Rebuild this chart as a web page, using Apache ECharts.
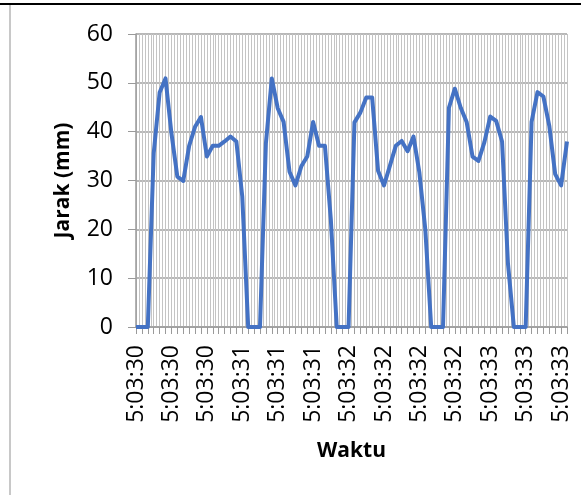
<!DOCTYPE html>
<html>
<head>
<meta charset="utf-8">
<script src="https://cdn.jsdelivr.net/npm/echarts@6/dist/echarts.min.js"></script>
<style>html,body{margin:0;padding:0;background:#fff}#c{width:581px;height:495px}</style>
</head>
<body>
<div id="c"></div>
<script>
var categories = [
"5:03:30","5:03:30","5:03:30","5:03:30","5:03:30","5:03:30","5:03:30","5:03:30","5:03:30","5:03:30",
"5:03:30","5:03:30","5:03:30","5:03:30","5:03:30","5:03:30","5:03:30","5:03:30",
"5:03:31","5:03:31","5:03:31","5:03:31","5:03:31","5:03:31","5:03:31","5:03:31","5:03:31","5:03:31",
"5:03:31","5:03:31","5:03:31","5:03:31","5:03:31","5:03:31","5:03:31","5:03:31",
"5:03:32","5:03:32","5:03:32","5:03:32","5:03:32","5:03:32","5:03:32","5:03:32","5:03:32","5:03:32",
"5:03:32","5:03:32","5:03:32","5:03:32","5:03:32","5:03:32","5:03:32","5:03:32","5:03:32","5:03:32","5:03:32",
"5:03:33","5:03:33","5:03:33","5:03:33","5:03:33","5:03:33","5:03:33","5:03:33","5:03:33","5:03:33",
"5:03:33","5:03:33","5:03:33","5:03:33","5:03:33","5:03:33","5:03:33"
];
var jarak = [
0,0,0,35.6,48,50.9,39.7,30.8,29.9,37.1,
41,43,34.9,37.1,37.1,38,39,38,26.7,0,
0,0,37.6,50.9,44.8,42,31.8,29,32.9,34.9,
42,37.1,37.1,22,0,0,0,41.9,43.9,47,
47,32,29,33,37.1,38.1,36,39,31.6,20,
0,0,0,44.9,48.8,44.9,42,34.9,34,37.8,
43.1,42.2,38,13,0,0,0,42,48.1,47.2,
41.2,31.3,29,38
];
var yTicks = [0,10,20,30,40,50,60];

var chart = echarts.init(document.getElementById('c'), null, {renderer:'canvas'});
var font = '"Open Sans", sans-serif';
chart.setOption({
  animation:false,
  backgroundColor:'#fff',
  graphic:[
    {type:'rect', shape:{x:0,y:3,width:581,height:2}, style:{fill:'#000'}, silent:true},
    {type:'rect', shape:{x:9,y:5,width:2,height:490}, style:{fill:'#c8c8c8'}, silent:true}
  ],
  grid:{left:136, right:14, top:34, bottom:168, containLabel:false},
  xAxis:[{
    type:'category',
    data:categories,
    boundaryGap:false,
    name:'Waktu',
    nameLocation:'middle',
    nameGap:114,
    nameTextStyle:{fontFamily:font, fontWeight:'bold', fontSize:21, color:'#000'},
    axisLine:{show:true, lineStyle:{color:'#9a9a9a', width:1.5}},
    axisTick:{show:true, interval:0, length:7, lineStyle:{color:'#9a9a9a'}},
    axisLabel:{interval:5, rotate:90, fontFamily:font, fontSize:23, color:'#000', margin:18},
    splitLine:{show:false}
  },{
    type:'value',
    min:0, max:categories.length-1, interval:0.5,
    show:true,
    axisLine:{show:false}, axisTick:{show:false}, axisLabel:{show:false},
    splitLine:{show:true, lineStyle:{color:'#c4c4c4', width:1}}
  }],
  yAxis:{
    type:'value',
    min:yTicks[0], max:yTicks[yTicks.length-1], interval:10,
    name:'Jarak (mm)',
    nameLocation:'middle',
    nameGap:62,
    nameTextStyle:{fontFamily:font, fontWeight:'bold', fontSize:21, color:'#000'},
    axisLine:{show:true, lineStyle:{color:'#9a9a9a', width:1.5}},
    axisTick:{show:true, length:8, lineStyle:{color:'#9a9a9a'}},
    axisLabel:{fontFamily:font, fontSize:23, color:'#000', margin:23},
    splitLine:{show:true, lineStyle:{color:'#a0a0a0', width:1.5}}
  },
  series:[{
    type:'line',
    data:jarak,
    xAxisIndex:0,
    showSymbol:false,
    symbol:'none',
    lineStyle:{color:'#4472C4', width:4, join:'round'},
    z:5
  }]
});
</script>
</body>
</html>
